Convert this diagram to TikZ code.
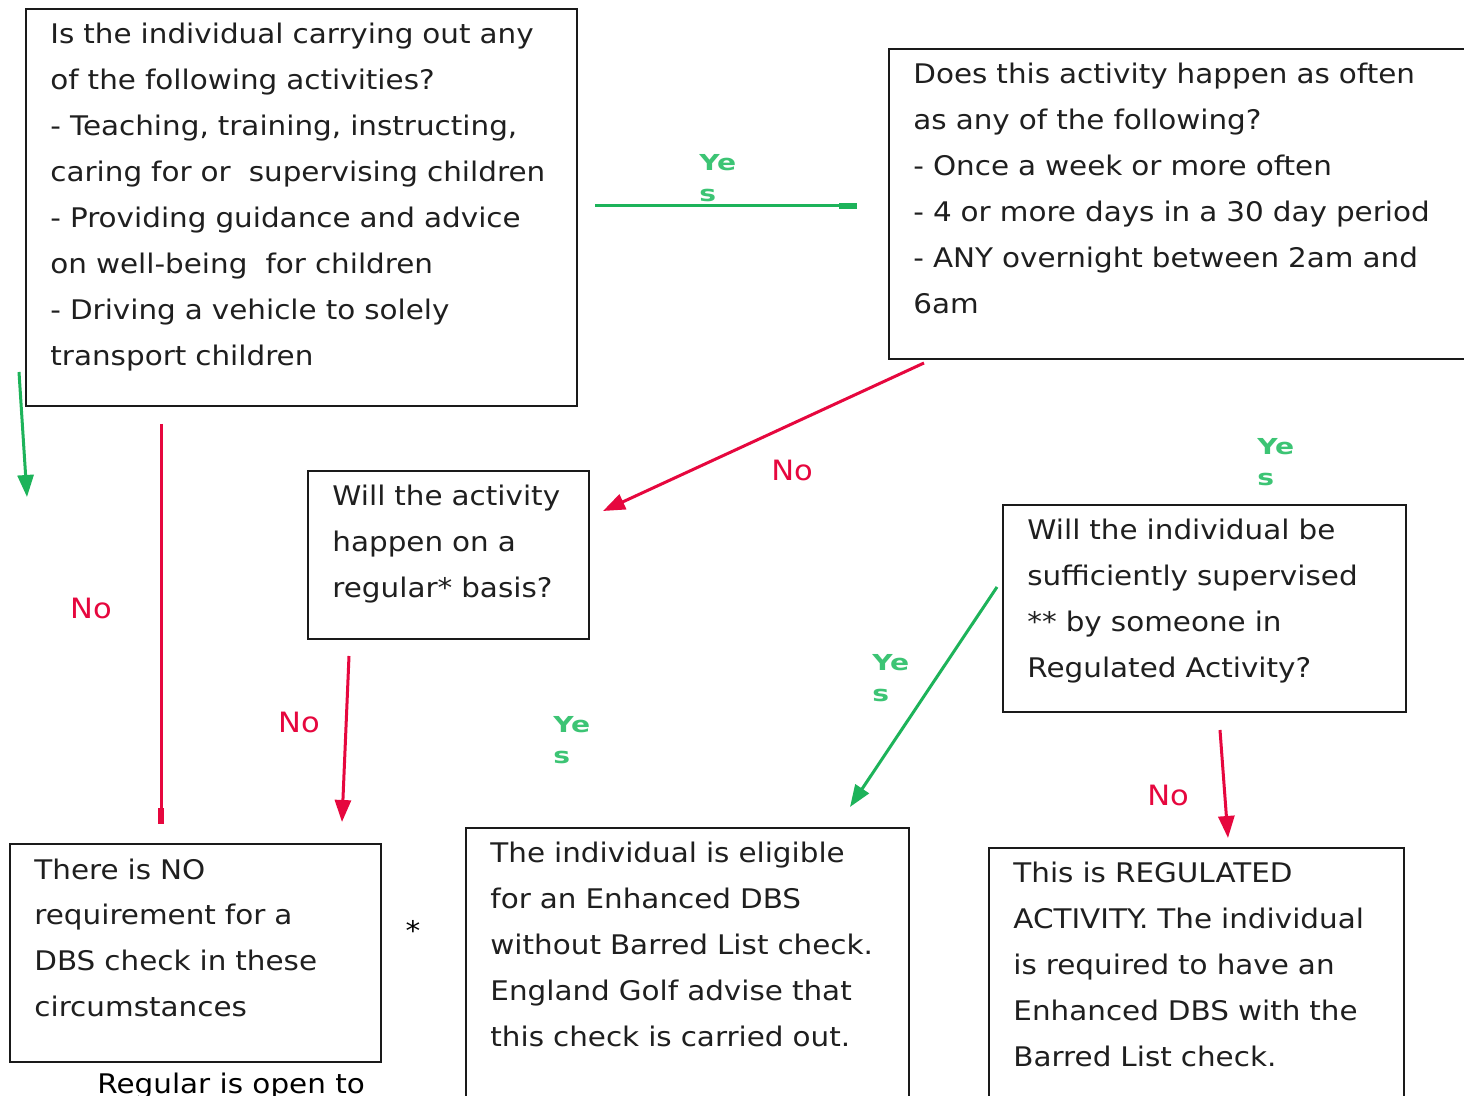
\documentclass[tikz,border=0pt]{standalone}
\usepackage{fontspec}
\setmainfont[FakeStretch=1.09]{DejaVu Sans}
\newfontfamily\yesfont[FakeStretch=1.28]{DejaVu Sans}
\usetikzlibrary{arrows.meta}
\definecolor{ygreen}{HTML}{1DB35A}
\definecolor{lgreen}{HTML}{3CC474}
\definecolor{nred}{HTML}{E6073E}
\definecolor{boxline}{HTML}{1A1A1A}
\tikzset{
  box/.style={draw=boxline, line width=1pt, fill=white},
  boxtext/.style={anchor=base west, inner sep=0pt, align=left, text width=#1,
     font=\fontsize{13.5}{23}\selectfont, text=black!88},
  boxtext/.default=280pt,
  yeslab/.style={anchor=base west, inner sep=0pt, align=left, text width=30pt,
     font=\yesfont\fontsize{11}{15.5}\selectfont\bfseries, text=lgreen},
  nolab/.style={inner sep=0pt, font=\fontsize{14}{15}\selectfont, text=nred},
  garrow/.style={draw=ygreen, line width=1.5pt, -{Triangle[length=11pt,width=8pt]}},
  rarrow/.style={draw=nred, line width=1.5pt, -{Triangle[length=11pt,width=8pt]}},
}
\begin{document}
\begin{tikzpicture}[x=0.5pt,y=-0.5pt]
\useasboundingbox (0,0) rectangle (1464,1096);
\fill[white] (0,0) rectangle (1464,1096);
% boxes
\node[box, anchor=north west, minimum width=275.5pt, minimum height=198.5pt, inner sep=0pt] (b1) at (25,8) {};
\node[box, anchor=north west, minimum width=300pt, minimum height=155pt, inner sep=0pt] (b2) at (888,48) {};
\node[box, anchor=north west, minimum width=140.5pt, minimum height=84pt, inner sep=0pt] (b3) at (307,470) {};
\node[box, anchor=north west, minimum width=201.5pt, minimum height=103.5pt, inner sep=0pt] (b4) at (1002,504) {};
\node[box, anchor=north west, minimum width=185.5pt, minimum height=109pt, inner sep=0pt] (b5) at (9,843) {};
\node[box, anchor=north west, minimum width=221.5pt, minimum height=160pt, inner sep=0pt] (b6) at (465,827) {};
\node[box, anchor=north west, minimum width=207.5pt, minimum height=160pt, inner sep=0pt] (b7) at (988,847) {};
% texts
\node[boxtext] (t1) at (50,44) {Is the individual carrying out any\\of the following activities?\\- Teaching, training, instructing,\\caring for or\ \ supervising children\\- Providing guidance and advice\\on well-being\ \ for children\\- Driving a vehicle to solely\\transport children};
\node[boxtext=300pt] (t2) at (913,84) {Does this activity happen as often\\as any of the following?\\- Once a week or more often\\- 4 or more days in a 30 day period\\- ANY overnight between 2am and\\6am};
\node[boxtext=135pt] (t3) at (332,506) {Will the activity\\happen on a\\regular* basis?};
\node[boxtext=195pt] (t4) at (1027,540) {Will the individual be\\sufficiently supervised\\{}** by someone in\\Regulated Activity?};
\node[boxtext=180pt] (t5) at (34,879) {There is NO\\requirement for a\\DBS check in these\\circumstances};
\node[boxtext=215pt] (t6) at (490,863) {The individual is eligible\\for an Enhanced DBS\\without Barred List check.\\England Golf advise that\\this check is carried out.};
\node[boxtext=205pt] (t7) at (1013,883) {This is REGULATED\\ACTIVITY. The individual\\is required to have an\\Enhanced DBS with the\\Barred List check.};
% free ends of connectors
\coordinate (a1s) at (595,206); \coordinate (a1e) at (857,206);
\coordinate (a2s) at (19,372);  \coordinate (a2e) at (27,497);
\coordinate (a3s) at (161,424); \coordinate (a3e) at (161,824);
\coordinate (a4s) at (924,363); \coordinate (a4e) at (603,511);
\coordinate (a5s) at (349,656); \coordinate (a5e) at (342,822);
\coordinate (a6s) at (997,587); \coordinate (a6e) at (850,807);
\coordinate (a7s) at (1220,730); \coordinate (a7e) at (1228,838);
% connectors
\draw[draw=ygreen, line width=1.5pt, -{Rectangle[length=9pt,width=3pt]}] (a1s) -- (a1e);
\draw[garrow] (a2s) -- (a2e);
\draw[draw=nred, line width=1.5pt, -{Rectangle[length=8pt,width=3pt]}] (a3s) -- (a3e);
\draw[rarrow] (a4s) -- (a4e);
\draw[rarrow] (a5s) -- (a5e);
\draw[garrow] (a6s) -- (a6e);
\draw[rarrow] (a7s) -- (a7e);
% labels
\node[yeslab] (y1) at (699,171) {Ye\\s};
\node[yeslab] (y2) at (1257,455) {Ye\\s};
\node[yeslab] (y3) at (872,671) {Ye\\s};
\node[yeslab] (y4) at (553,733) {Ye\\s};
\node[nolab] (n1) at (91,608) {No};
\node[nolab] (n2) at (299,722) {No};
\node[nolab] (n3) at (792,470) {No};
\node[nolab] (n4) at (1168,795) {No};
\node[inner sep=0pt, font=\fontsize{13.5}{15}\selectfont] (star) at (413,930) {*};
\node[anchor=base west, inner sep=0pt, font=\fontsize{13.5}{15}\selectfont] (reg) at (97,1093) {Regular is open to};
\end{tikzpicture}
\end{document}
